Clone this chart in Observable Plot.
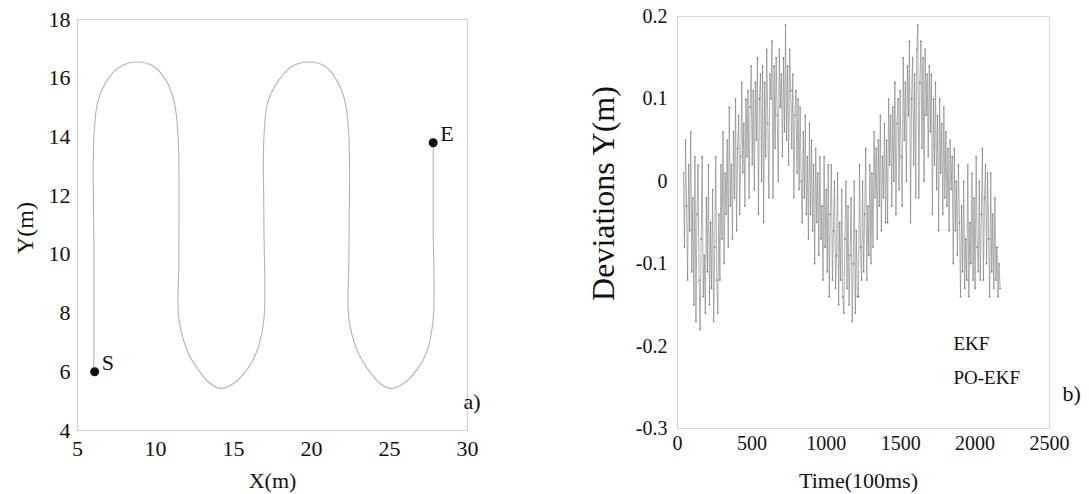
<!DOCTYPE html>
<html>
<head>
<meta charset="utf-8">
<script src="https://cdn.jsdelivr.net/npm/d3@7"></script>
<script src="https://cdn.jsdelivr.net/npm/@observablehq/plot@0.6"></script>
<style>
  html, body { margin: 0; padding: 0; background: #fff; }
  #wrap { position: relative; width: 1089px; height: 494px; overflow: hidden; }
  #left { position: absolute; left: 0; top: 0; }
  #right { position: absolute; left: 540px; top: 0; }
  svg, svg text { font-family: "Liberation Serif", "DejaVu Serif", serif !important; }
</style>
</head>
<body>
<div id="wrap"><div id="left"></div><div id="right"></div></div>
<script>
// ---------- Panel a): robot trajectory ----------
const trajX = [6.05, 6.05, 6.05, 6.3, 6.8, 7.6, 8.7, 9.9, 10.75, 11.2, 11.45, 11.5, 11.5,
  12.05, 12.7, 13.5, 14.2, 15.0, 15.9, 16.5, 16.95, 16.95, 16.95, 17.2, 17.8, 18.6, 19.7,
  20.9, 21.7, 22.15, 22.4, 22.4, 22.4, 22.95, 23.6, 24.4, 25.1, 25.9, 26.8, 27.4, 27.8, 27.8, 27.8];
const trajY = [6.0, 10, 14.0, 15.2, 15.85, 16.35, 16.55, 16.4, 15.85, 15.2, 14.0, 10, 7.8,
  6.7, 6.1, 5.6, 5.43, 5.6, 6.1, 6.7, 7.8, 11, 14.0, 15.2, 15.85, 16.35, 16.55,
  16.4, 15.85, 15.2, 14.0, 10, 7.8, 6.7, 6.1, 5.6, 5.43, 5.6, 6.1, 6.7, 7.8, 11, 13.8];
const markerNames = ["S", "E"];
const markerX = [6.1, 27.8];
const markerY = [6.0, 13.8];
const xTicksA = [5, 10, 15, 20, 25, 30];
const yTicksA = [4, 6, 8, 10, 12, 14, 16, 18];

// ---------- Panel b): deviations in Y ----------
const ekfDev = [
  0.01, -0.08, 0.05, -0.03, -0.12, 0.02, -0.06,
  0.06, -0.11, -0.02, -0.15, 0.03, -0.17, -0.04,
  0.02, -0.12, -0.18, -0.07, 0.03, -0.14, -0.09,
  -0.16, -0.02, -0.11, 0.02, -0.15, -0.05, -0.13,
  -0.01, -0.17, -0.08, 0.03, -0.12, -0.16, -0.04,
  -0.12, 0.02, -0.07, 0.06, -0.10, 0.01, -0.04,
  0.05, -0.08, 0.09, -0.03, 0.02, -0.07, 0.06,
  -0.02, 0.10, -0.06, 0.04, 0.08, -0.04, 0.03,
  0.12, 0.01, 0.07, -0.03, 0.10, 0.03, 0.11,
  -0.02, 0.09, 0.14, 0.02, 0.11, -0.01, 0.12,
  0.05, 0.15, -0.04, 0.10, 0.13, 0.00, 0.14,
  -0.05, 0.12, 0.03, 0.16, 0.07, -0.02, 0.13,
  0.10, 0.17, -0.02, 0.14, 0.04, 0.15, 0.08,
  0.00, 0.16, 0.09, 0.13, 0.03, 0.15, 0.06,
  0.19, 0.05, 0.14, 0.02, 0.16, 0.11, 0.04,
  0.13, -0.02, 0.08, 0.11, 0.01, 0.10, -0.01,
  0.09, 0.00, -0.05, 0.06, -0.02, 0.08, -0.04,
  0.03, -0.07, 0.07, -0.04, 0.05, -0.06, 0.02,
  -0.10, 0.04, -0.05, 0.01, -0.09, 0.03, -0.07,
  -0.03, -0.12, 0.03, -0.08, -0.01, -0.11, 0.02,
  -0.14, -0.04, 0.02, -0.12, -0.06, 0.00, -0.13,
  -0.09, 0.01, -0.15, -0.05, -0.12, -0.01, -0.14,
  -0.16, -0.07, 0.00, -0.13, -0.03, -0.15, -0.09,
  -0.02, -0.17, -0.10, 0.00, -0.16, -0.06, -0.14,
  -0.14, 0.02, -0.08, -0.12, 0.00, -0.11, -0.04,
  0.04, -0.12, -0.03, -0.09, 0.02, -0.10, 0.01,
  -0.08, 0.06, -0.02, 0.04, -0.07, 0.05, -0.03,
  0.08, -0.06, 0.03, -0.02, 0.07, -0.05, 0.05,
  -0.05, 0.10, 0.02, 0.08, -0.03, 0.09, 0.00,
  0.12, -0.04, 0.07, 0.10, -0.01, 0.11, 0.03,
  -0.03, 0.15, 0.05, 0.12, 0.00, 0.14, 0.08,
  0.17, -0.05, 0.10, 0.15, 0.02, 0.13, -0.02,
  0.16, 0.19, -0.02, 0.12, 0.17, 0.04, 0.15,
  0.00, 0.16, 0.08, 0.13, 0.03, 0.14, 0.06,
  0.13, -0.04, 0.10, 0.02, 0.12, -0.01, 0.08,
  -0.06, 0.10, 0.01, 0.07, -0.04, 0.09, -0.02,
  0.06, -0.03, 0.04, -0.06, 0.05, -0.01, 0.03,
  -0.10, 0.04, -0.06, 0.00, -0.09, 0.02, -0.05,
  -0.14, -0.03, -0.11, 0.00, -0.13, -0.07, -0.12,
  0.02, -0.14, -0.05, -0.10, 0.01, -0.12, -0.02,
  -0.13, 0.03, -0.08, -0.11, 0.00, -0.12, -0.04,
  0.04, -0.12, -0.02, 0.02, -0.10, 0.01, -0.07,
  -0.14, 0.01, -0.11, -0.04, -0.13, -0.02, -0.12,
  -0.08, -0.14, -0.10, -0.13
];
const timeStart = 40;     // first sample (100 ms units)
const timeStep = 7.0;     // sample spacing
const legendNames = ["EKF", "PO-EKF"];
const xTicksB = [0, 500, 1000, 1500, 2000, 2500];
const yTicksB = [0.2, 0.1, 0, -0.1, -0.2, -0.3];

const traj = trajX.map((x, i) => ({x, y: trajY[i]}));
const markers = markerNames.map((n, i) => ({name: n, x: markerX[i], y: markerY[i]}));
const dev = ekfDev.map((v, i) => ({t: timeStart + i * timeStep, v}));

const serif = "Liberation Serif, serif";

const plotA = Plot.plot({
  width: 540, height: 494,
  marginLeft: 77, marginRight: 73, marginTop: 19, marginBottom: 64,
  style: {fontSize: "22px", fontFamily: serif, color: "#111", background: "transparent"},
  x: {domain: [5, 30], ticks: xTicksA, tickSize: 0, tickPadding: 10, label: null, tickFormat: d => String(d)},
  y: {domain: [4, 18], ticks: yTicksA, tickSize: 0, tickPadding: 7, label: null, tickFormat: d => String(d)},
  marks: [
    Plot.frame({stroke: "#cfcfcf", strokeWidth: 1}),
    Plot.line(traj, {x: "x", y: "y", stroke: "#b4b4b4", strokeWidth: 1.1, curve: "catmull-rom"}),
    Plot.dot(markers, {x: "x", y: "y", r: 4.5, fill: "#111", stroke: "none"}),
    Plot.text(markers, {x: "x", y: "y", text: "name", dx: 7, dy: -9, textAnchor: "start", lineAnchor: "middle", fontSize: 22, fill: "#111"}),
    Plot.text(["X(m)"], {frameAnchor: "bottom", dy: 50, textAnchor: "middle", lineAnchor: "middle", fontSize: 22, fill: "#111"}),
    Plot.text(["Y(m)"], {frameAnchor: "left", dx: -52, dy: 3, rotate: -90, textAnchor: "middle", lineAnchor: "middle", fontSize: 24, fill: "#111"}),
    Plot.text(["a)"], {frameAnchor: "bottom-right", dx: -4, dy: -29, textAnchor: "start", lineAnchor: "middle", fontSize: 22, fill: "#111"})
  ]
});
document.getElementById("left").appendChild(plotA);

const plotB = Plot.plot({
  width: 549, height: 494,
  marginLeft: 137, marginRight: 40, marginTop: 16, marginBottom: 66,
  style: {fontSize: "20px", fontFamily: serif, color: "#111", background: "transparent"},
  x: {domain: [0, 2500], ticks: xTicksB, tickSize: 0, tickPadding: 7, label: null, tickFormat: d => String(d)},
  y: {domain: [-0.3, 0.2], ticks: yTicksB, tickSize: 0, tickPadding: 10, tickFormat: d => String(d), label: null},
  marks: [
    Plot.frame({stroke: "#d6d6d6", strokeWidth: 1}),
    Plot.line(dev, {x: "t", y: "v", stroke: "#7a7a7a", strokeWidth: 0.6}),
    Plot.dot(dev, {x: "t", y: "v", r: 0.9, fill: "#333", fillOpacity: 0.45, stroke: "none"}),
    Plot.text(["Time(100ms)"], {frameAnchor: "bottom", dx: -5, dy: 52, textAnchor: "middle", lineAnchor: "middle", fontSize: 22, fill: "#111"}),
    Plot.text(["Deviations Y(m)"], {frameAnchor: "left", dx: -74, dy: -29, rotate: -90, textAnchor: "middle", lineAnchor: "middle", fontSize: 32, fill: "#111"}),
    Plot.text([legendNames[0]], {frameAnchor: "top-left", dx: 276, dy: 327, textAnchor: "start", lineAnchor: "middle", fontSize: 19, fill: "#111"}),
    Plot.text([legendNames[1]], {frameAnchor: "top-left", dx: 276, dy: 361, textAnchor: "start", lineAnchor: "middle", fontSize: 19, fill: "#111"}),
    Plot.text(["b)"], {frameAnchor: "top-right", dx: 13, dy: 377, textAnchor: "start", lineAnchor: "middle", fontSize: 22, fill: "#111"})
  ]
});
document.getElementById("right").appendChild(plotB);
</script>
</body>
</html>
